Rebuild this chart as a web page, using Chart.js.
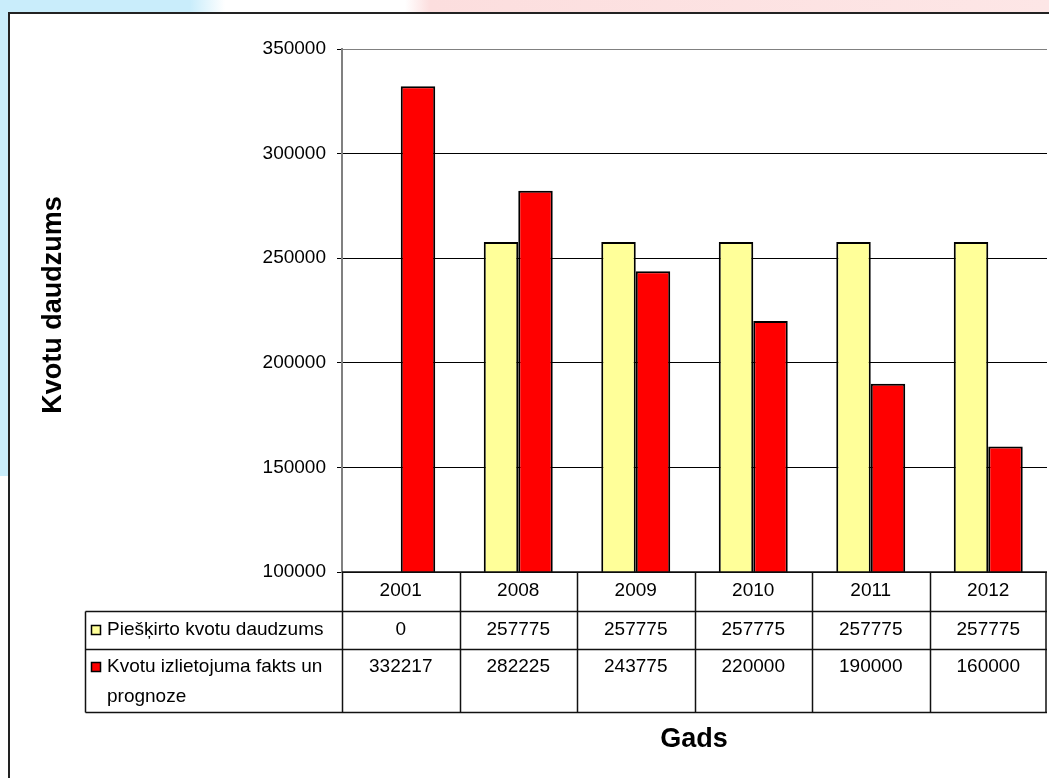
<!DOCTYPE html>
<html>
<head>
<meta charset="utf-8">
<script src="https://cdn.jsdelivr.net/npm/chart.js@4/dist/chart.umd.min.js"></script>
<style>
    body { margin: 0; background: #fff; overflow: hidden; }
    #page { position: relative; width: 1049px; height: 778px; overflow: hidden; }
    #topband {
        position: absolute; left: 0; top: 0; width: 1049px; height: 14px;
        background: linear-gradient(90deg, #c9edfb 0, #c9edfb 190px, #ffffff 225px, #ffffff 405px, #fcdede 430px, #fde6e6 1049px);
    }
    #leftband { position: absolute; left: 0; top: 0; width: 9px; height: 476px; background: #c9edfb; }
    #frame {
        position: absolute; left: 8px; top: 12px; width: 1100px; height: 800px;
        border: 2px solid #222; background: #fff; box-sizing: border-box;
    }
    #chart-wrap { position: absolute; left: 0; top: 0; width: 1049px; height: 778px; }
</style>
</head>
<body>
<div id="page">
    <div id="topband"></div>
    <div id="leftband"></div>
    <div id="frame"></div>
    <div id="chart-wrap"><canvas id="kvotu-chart"></canvas></div>
</div>
<script>
// Dati
const GADI = ['2001', '2008', '2009', '2010', '2011', '2012'];
const PIESKIRTO = [0, 257775, 257775, 257775, 257775, 257775];
const IZLIETOJUMS = [332217, 282225, 243775, 220000, 190000, 160000];
const SERIJU_NOSAUKUMI = ['Piešķirto kvotu daudzums', 'Kvotu izlietojuma fakts un prognoze'];
const Y_TICKS = [100000, 150000, 200000, 250000, 300000, 350000];

const KRASAS = ['#FFFF99', '#FF0000'];
const FONT = '"Liberation Sans", Arial, sans-serif';

// Datu tabula zem grafika
const dataTablePlugin = {
    id: 'dataTable',
    afterDraw(chart) {
        const ctx = chart.ctx;
        const x = chart.scales.x;
        const area = chart.chartArea;
        const catW = (area.right - area.left) / GADI.length;
        const tableLeft = 85.5;
        const rows = [572, 611.5, 649.5, 712.5];

        ctx.save();
        ctx.strokeStyle = '#111';
        ctx.lineWidth = 1.5;

        // horizontal lines
        ctx.beginPath();
        ctx.moveTo(area.left, rows[0]); ctx.lineTo(area.right, rows[0]);
        for (let r = 1; r < rows.length; r++) {
            ctx.moveTo(tableLeft, rows[r]); ctx.lineTo(area.right, rows[r]);
        }
        // vertical lines
        ctx.moveTo(tableLeft, rows[1]); ctx.lineTo(tableLeft, rows[3]);
        for (let i = 0; i <= GADI.length; i++) {
            let vx = Math.round(area.left + i * catW) + 0.5;
            if (i === GADI.length) vx -= 1.5;
            ctx.moveTo(vx, rows[0]); ctx.lineTo(vx, rows[3]);
        }
        ctx.stroke();

        ctx.fillStyle = '#000';
        ctx.font = '19px ' + FONT;
        ctx.textAlign = 'center';
        ctx.textBaseline = 'middle';
        GADI.forEach((g, i) => {
            const cx = x.getPixelForValue(i);
            ctx.fillText(g, cx, 591);
            ctx.fillText(String(PIESKIRTO[i]), cx, 630);
            ctx.fillText(String(IZLIETOJUMS[i]), cx, 667);
        });

        // series labels with colour keys
        const rowMid = [630, 667];
        ctx.textAlign = 'left';
        SERIJU_NOSAUKUMI.forEach((name, s) => {
            ctx.fillStyle = KRASAS[s];
            ctx.fillRect(91, rowMid[s] - 5, 10, 10);
            ctx.strokeStyle = '#000';
            ctx.lineWidth = 1.5;
            ctx.strokeRect(91.5, rowMid[s] - 4.5, 9, 9);

            // wrap to the label column
            const words = name.split(' ');
            const lines = [];
            let line = '';
            words.forEach(w => {
                const test = line ? line + ' ' + w : w;
                if (ctx.measureText(test).width > 228 && line) {
                    lines.push(line);
                    line = w;
                } else {
                    line = test;
                }
            });
            lines.push(line);
            ctx.fillStyle = '#000';
            lines.forEach((l, k) => ctx.fillText(l, 107, rowMid[s] + k * 30));
        });

        // axis titles
        ctx.font = 'bold 27px ' + FONT;
        ctx.textAlign = 'center';
        ctx.fillText('Gads', 694, 740);
        ctx.translate(54, 305);
        ctx.rotate(-Math.PI / 2);
        ctx.fillText('Kvotu daudzums', 0, 0);
        ctx.restore();
    }
};

new Chart(document.getElementById('kvotu-chart'), {
    type: 'bar',
    data: {
        labels: GADI,
        datasets: [
            {
                label: SERIJU_NOSAUKUMI[0],
                data: PIESKIRTO,
                backgroundColor: KRASAS[0],
                borderColor: '#000',
                borderWidth: 2,
                clip: 0
            },
            {
                label: SERIJU_NOSAUKUMI[1],
                data: IZLIETOJUMS,
                backgroundColor: KRASAS[1],
                borderColor: '#000',
                borderWidth: 2,
                clip: 0
            }
        ]
    },
    options: {
        responsive: true,
        maintainAspectRatio: false,
        animation: false,
        layout: {
            padding: { left: 0, top: 49, right: 2, bottom: 206 }
        },
        datasets: {
            bar: { categoryPercentage: 0.587, barPercentage: 1.0 }
        },
        plugins: {
            legend: { display: false },
            tooltip: { enabled: false }
        },
        scales: {
            x: {
                display: false
            },
            y: {
                min: Y_TICKS[0],
                max: Y_TICKS[Y_TICKS.length - 1],
                afterBuildTicks: (scale) => {
                    scale.ticks = Y_TICKS.map(v => ({ value: v }));
                },
                afterFit: (scale) => { scale.width = 342; },
                ticks: {
                    color: '#000',
                    padding: 11,
                    font: { family: FONT, size: 19 },
                    callback: (v) => String(v)
                },
                grid: {
                    color: (c) => c.tick && c.tick.value === 350000 ? '#808080' : '#000',
                    lineWidth: 1,
                    tickLength: 5,
                    tickColor: '#000'
                },
                border: {
                    display: true,
                    color: '#808080',
                    width: 2
                }
            }
        }
    },
    plugins: [dataTablePlugin]
});
</script>
</body>
</html>
